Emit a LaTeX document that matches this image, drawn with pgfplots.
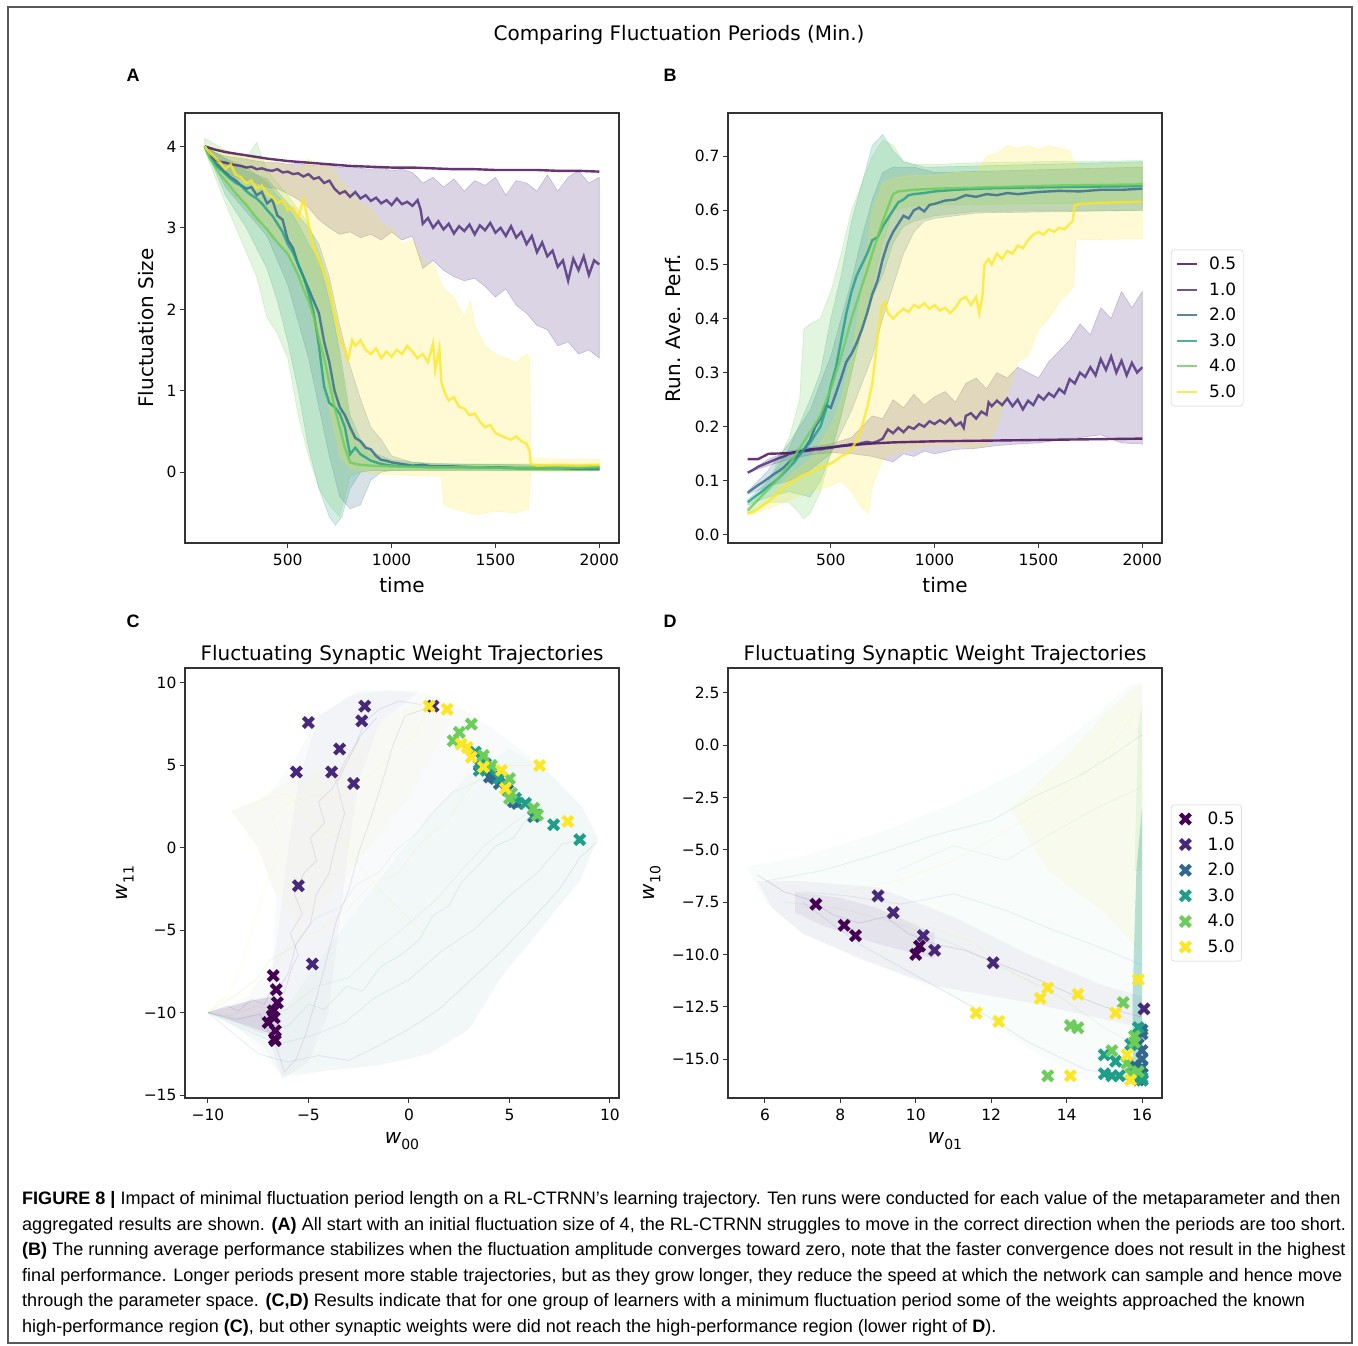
\documentclass[border=0pt]{standalone}
\usepackage{pgfplots}
\pgfplotsset{compat=1.18}
\usepackage{fontspec}
\setmainfont{DejaVu Sans}
\newfontfamily\capfont{Liberation Sans}
\newcommand{\fs}[1]{\fontsize{#1}{#1}\selectfont}
\definecolor{v0}{HTML}{440154}
\definecolor{v1}{HTML}{482878}
\definecolor{v2}{HTML}{31688E}
\definecolor{v3}{HTML}{1F9E89}
\definecolor{v4}{HTML}{6CCD5A}
\definecolor{v5}{HTML}{FDE725}
\pgfdeclareplotmark{bigX}{%
  \pgfpathmoveto{\pgfpoint{0.6\pgfplotmarksize}{0pt}}%
  \pgfpathlineto{\pgfpoint{1.3\pgfplotmarksize}{0.7\pgfplotmarksize}}%
  \pgfpathlineto{\pgfpoint{0.7\pgfplotmarksize}{1.3\pgfplotmarksize}}%
  \pgfpathlineto{\pgfpoint{0pt}{0.6\pgfplotmarksize}}%
  \pgfpathlineto{\pgfpoint{-0.7\pgfplotmarksize}{1.3\pgfplotmarksize}}%
  \pgfpathlineto{\pgfpoint{-1.3\pgfplotmarksize}{0.7\pgfplotmarksize}}%
  \pgfpathlineto{\pgfpoint{-0.6\pgfplotmarksize}{0pt}}%
  \pgfpathlineto{\pgfpoint{-1.3\pgfplotmarksize}{-0.7\pgfplotmarksize}}%
  \pgfpathlineto{\pgfpoint{-0.7\pgfplotmarksize}{-1.3\pgfplotmarksize}}%
  \pgfpathlineto{\pgfpoint{0pt}{-0.6\pgfplotmarksize}}%
  \pgfpathlineto{\pgfpoint{0.7\pgfplotmarksize}{-1.3\pgfplotmarksize}}%
  \pgfpathlineto{\pgfpoint{1.3\pgfplotmarksize}{-0.7\pgfplotmarksize}}%
  \pgfpathclose\pgfusepathqfill}
\pgfplotsset{mpl/.style={scale only axis, width=434pt, height=430pt,
  axis line style={line width=1.1pt, black!80}, every tick/.style={line width=1pt, black!80},
  tick align=outside, major tick length=5pt, xtick pos=bottom, ytick pos=left,
  ticklabel style={font=\fs{15.5}}, xticklabel style={yshift=-2.5pt}, label style={font=\fs{20}}, axis on top, clip=true},
  band/.style={fill=#1, fill opacity=0.2, draw=#1, draw opacity=0.25, line width=0.6pt, forget plot},
  mline/.style={#1, opacity=0.8, line width=2.4pt},
  cloud/.style={fill=#1, fill opacity=0.03, draw=none, forget plot},
  traj/.style={#1, opacity=0.12, line width=0.8pt, forget plot},
  xm/.style={only marks, mark=bigX, mark size=5pt, color=#1},
  leg/.style={legend style={at={(1.0207,0.5)}, anchor=west, draw=black!20, rounded corners=3pt,
     font=\fs{17}, inner xsep=5pt, inner ysep=5pt, row sep=7.5pt,
     /tikz/every odd column/.append style={column sep=9pt}}, legend cell align=left}
}
\begin{document}
\begin{tikzpicture}[x=1pt,y=1pt]
\path[use as bounding box] (0pt,0pt) rectangle (1358pt,1345pt);
\draw[line width=1.5pt, black!65] (8pt,2pt) rectangle (1352pt,1338pt);
\node[font=\fs{20}] at (679pt,1310pt) {Comparing Fluctuation Periods (Min.)};
\node[font=\capfont\bfseries\fs{18}] at (133pt,1270pt) {A};
\node[font=\capfont\bfseries\fs{18}] at (670pt,1270pt) {B};
\node[font=\capfont\bfseries\fs{18}] at (133pt,724pt) {C};
\node[font=\capfont\bfseries\fs{18}] at (670pt,724pt) {D};

% ---------------- A ----------------
\begin{axis}[mpl, at={(185pt,802pt)}, anchor=south west,
  xmin=5, xmax=2095, ymin=-0.87, ymax=4.41,
  xtick={500,1000,1500,2000}, xticklabels={500,1000,1500,2000},
  ytick={0,1,2,3,4}, yticklabels={0,1,2,3,4},
  xlabel={time}, ylabel={Fluctuation Size},
  xlabel style={at={(axis description cs:0.5,-0.098)}, anchor=center},
  ylabel style={at={(axis description cs:-0.09,0.5)}, anchor=center}]
\addplot[band=v1] coordinates {(100,4.00) (150,3.92) (200,3.88) (250,3.86) (300,3.84) (350,3.82) (400,3.80) (450,3.80) (500,3.78) (550,3.79) (600,3.77) (650,3.76) (700,3.78) (750,3.74) (800,3.76) (850,3.73) (900,3.72) (950,3.74) (1000,3.70) (1050,3.72) (1100,3.68) (1150,3.55) (1200,3.62) (1250,3.50) (1300,3.60) (1350,3.45) (1400,3.58) (1450,3.52) (1500,3.62) (1550,3.40) (1600,3.58) (1650,3.55) (1700,3.45) (1750,3.65) (1800,3.45) (1850,3.62) (1900,3.70) (1950,3.55) (2000,3.62)
 (2000,1.40) (1950,1.50) (1900,1.45) (1850,1.60) (1800,1.55) (1750,1.75) (1700,1.80) (1650,1.95) (1600,2.05) (1550,2.25) (1500,2.15) (1450,2.28) (1400,2.38) (1350,2.35) (1300,2.40) (1250,2.48) (1200,2.60) (1150,2.50) (1100,2.90) (1050,2.85) (1000,2.95) (950,2.85) (900,2.92) (850,2.88) (800,2.95) (750,2.92) (700,3.00) (650,3.10) (600,3.25) (550,3.35) (500,3.42) (450,3.48) (400,3.50) (350,3.55) (300,3.58) (250,3.62) (200,3.68) (150,3.75) (100,4.00)} -- cycle;
\addplot[band=v2] coordinates {(100,4.0) (200,3.85) (300,3.70) (400,3.60) (500,3.30) (600,3.00) (650,2.80) (700,2.40) (750,1.80) (800,1.30) (850,0.90) (900,0.55) (950,0.40) (1000,0.20) (1100,0.12) (1300,0.10) (2000,0.08)
 (2000,0.02) (1300,0.03) (1100,0.03) (1000,0.02) (950,0.00) (900,-0.10) (850,-0.40) (800,-0.45) (750,-0.30) (700,0.20) (650,0.80) (600,1.40) (500,2.30) (400,2.90) (300,3.20) (200,3.50) (100,4.0)} -- cycle;
\addplot[band=v3] coordinates {(100,4.0) (200,3.85) (300,3.75) (400,3.55) (500,3.25) (550,3.05) (600,2.80) (650,2.60) (700,2.10) (750,1.50) (800,0.70) (850,0.40) (900,0.25) (1000,0.15) (1200,0.10) (2000,0.08)
 (2000,0.02) (1000,0.02) (900,0.02) (850,0.00) (800,-0.20) (760,-0.55) (730,-0.65) (700,-0.55) (650,-0.20) (600,0.30) (550,1.00) (500,1.60) (450,2.10) (400,2.50) (300,3.00) (200,3.40) (100,4.0)} -- cycle;
\addplot[band=v4] coordinates {(100,4.1) (200,3.95) (300,3.85) (350,4.05) (400,3.70) (500,3.40) (600,3.05) (650,2.70) (700,2.30) (750,1.40) (800,0.60) (850,0.35) (900,0.20) (1000,0.12) (1200,0.10) (2000,0.10)
 (2000,0.02) (1000,0.02) (900,0.02) (850,0.00) (800,-0.05) (750,-0.55) (700,-0.40) (650,-0.20) (600,0.20) (550,0.70) (500,1.40) (450,1.70) (400,1.90) (350,2.40) (300,2.70) (200,3.30) (100,3.95)} -- cycle;
\addplot[band=v5] coordinates {(100,4.00) (200,3.95) (300,3.88) (400,3.82) (500,3.78) (550,3.72) (600,3.85) (650,3.75) (700,3.78) (750,3.60) (800,3.45) (850,3.30) (900,3.25) (950,3.05) (1000,3.00) (1050,2.80) (1100,2.85) (1150,2.60) (1200,2.55) (1250,2.25) (1300,2.15) (1350,1.90) (1380,2.10) (1400,1.80) (1450,1.55) (1500,1.45) (1550,1.40) (1600,1.35) (1650,1.45) (1665,1.40) (1670,0.18) (1800,0.16) (2000,0.16)
 (2000,0.01) (1800,0.01) (1670,0.00) (1660,-0.45) (1600,-0.50) (1500,-0.48) (1400,-0.52) (1300,-0.45) (1250,-0.40) (1240,-0.05) (1200,-0.05) (1100,-0.04) (1000,-0.03) (900,-0.02) (800,0.05) (750,0.20) (700,0.80) (650,1.50) (600,2.10) (550,2.50) (500,2.70) (400,2.95) (300,3.25) (200,3.55) (100,4.00)} -- cycle;
\addplot[mline=v0] coordinates {(100,4.00) (150,3.96) (200,3.93) (300,3.89) (400,3.85) (500,3.82) (600,3.80) (700,3.78) (800,3.76) (900,3.75) (1000,3.74) (1100,3.74) (1200,3.73) (1300,3.72) (1400,3.72) (1500,3.71) (1600,3.71) (1700,3.71) (1800,3.70) (1900,3.70) (2000,3.69)};
\addplot[mline=v1] coordinates {(100,4.00) (125,3.90) (150,3.84) (175,3.81) (200,3.80) (225,3.78) (250,3.77) (275,3.76) (300,3.74) (325,3.75) (350,3.72) (375,3.73) (400,3.71) (425,3.70) (450,3.72) (475,3.68) (500,3.69) (525,3.66) (550,3.67) (575,3.63) (600,3.66) (625,3.60) (650,3.62) (675,3.55) (700,3.58) (725,3.48) (750,3.42) (775,3.45) (800,3.38) (825,3.44) (850,3.36) (875,3.40) (900,3.33) (925,3.37) (950,3.30) (975,3.34) (1000,3.28) (1025,3.36) (1050,3.29) (1075,3.32) (1100,3.27) (1125,3.34) (1140,3.22) (1150,3.05) (1175,3.12) (1200,3.00) (1225,3.08) (1250,2.98) (1275,3.05) (1300,2.93) (1325,3.02) (1350,2.96) (1375,3.04) (1400,2.92) (1425,3.03) (1450,2.97) (1475,3.06) (1500,2.94) (1525,3.00) (1550,2.90) (1575,3.02) (1600,2.88) (1625,2.95) (1650,2.80) (1675,2.90) (1700,2.70) (1725,2.82) (1750,2.65) (1775,2.72) (1800,2.52) (1825,2.60) (1850,2.35) (1875,2.62) (1900,2.48) (1925,2.65) (1950,2.42) (1975,2.60) (2000,2.55)};
\addplot[mline=v2] coordinates {(100,4.00) (125,3.88) (150,3.80) (175,3.74) (200,3.68) (225,3.62) (250,3.58) (275,3.52) (300,3.48) (325,3.50) (350,3.40) (375,3.44) (400,3.30) (425,3.35) (450,3.15) (475,3.10) (500,2.85) (525,2.75) (550,2.55) (575,2.40) (600,2.25) (625,2.10) (650,1.95) (675,1.60) (700,1.35) (725,1.00) (750,0.80) (775,0.70) (800,0.55) (825,0.42) (850,0.38) (875,0.30) (900,0.28) (925,0.20) (950,0.15) (975,0.14) (1000,0.12) (1050,0.10) (1100,0.08) (1150,0.09) (1200,0.07) (1300,0.07) (1400,0.06) (1500,0.06) (1600,0.05) (1700,0.05) (1800,0.05) (1900,0.04) (2000,0.04)};
\addplot[mline=v3] coordinates {(100,4.00) (125,3.86) (150,3.78) (175,3.72) (200,3.66) (225,3.60) (250,3.55) (275,3.52) (300,3.45) (325,3.40) (350,3.36) (375,3.30) (400,3.22) (425,3.15) (450,3.05) (475,2.95) (500,2.80) (525,2.70) (550,2.55) (575,2.40) (600,2.20) (625,1.95) (650,1.55) (675,1.05) (700,0.85) (725,0.80) (750,0.72) (775,0.55) (790,0.35) (800,0.22) (825,0.30) (850,0.22) (875,0.18) (900,0.14) (950,0.10) (1000,0.08) (1100,0.07) (1200,0.06) (1400,0.06) (1600,0.05) (1800,0.05) (2000,0.05)};
\addplot[mline=v4] coordinates {(100,4.00) (125,3.85) (150,3.75) (175,3.65) (200,3.58) (225,3.50) (250,3.42) (275,3.35) (300,3.28) (325,3.20) (350,3.12) (375,3.05) (400,2.98) (425,2.90) (450,2.82) (475,2.75) (500,2.68) (525,2.55) (550,2.42) (575,2.25) (600,2.10) (625,1.90) (650,1.65) (675,1.40) (700,1.10) (725,0.80) (750,0.55) (775,0.30) (800,0.12) (825,0.10) (850,0.09) (900,0.08) (1000,0.07) (1200,0.06) (1400,0.06) (1600,0.05) (1800,0.05) (2000,0.06)};
\addplot[mline=v5] coordinates {(100,4.00) (125,3.92) (150,3.86) (175,3.80) (200,3.72) (225,3.78) (250,3.65) (275,3.62) (300,3.55) (325,3.58) (350,3.48) (375,3.52) (400,3.42) (425,3.38) (450,3.30) (475,3.34) (500,3.22) (525,3.25) (550,3.12) (575,3.35) (600,3.05) (625,2.75) (650,2.60) (675,2.45) (700,2.25) (725,1.95) (750,1.65) (775,1.50) (790,1.38) (810,1.62) (825,1.55) (850,1.62) (875,1.50) (900,1.45) (925,1.52) (950,1.40) (975,1.48) (1000,1.42) (1025,1.50) (1050,1.45) (1075,1.55) (1100,1.48) (1125,1.40) (1150,1.45) (1175,1.35) (1200,1.58) (1210,1.25) (1230,1.52) (1240,1.10) (1260,0.95) (1275,0.88) (1300,0.92) (1325,0.80) (1350,0.78) (1375,0.70) (1400,0.72) (1425,0.62) (1450,0.55) (1475,0.58) (1500,0.48) (1525,0.45) (1550,0.42) (1575,0.40) (1600,0.44) (1625,0.38) (1650,0.35) (1665,0.25) (1670,0.10) (1700,0.08) (1800,0.09) (1900,0.08) (2000,0.09)};
\end{axis}

% ---------------- B ----------------
\begin{axis}[mpl, leg, at={(728pt,802pt)}, anchor=south west,
  xmin=5, xmax=2095, ymin=-0.015, ymax=0.78,
  xtick={500,1000,1500,2000}, xticklabels={500,1000,1500,2000},
  ytick={0,0.1,0.2,0.3,0.4,0.5,0.6,0.7}, yticklabels={0.0,0.1,0.2,0.3,0.4,0.5,0.6,0.7},
  xlabel={time}, ylabel={Run. Ave. Perf.},
  xlabel style={at={(axis description cs:0.5,-0.098)}, anchor=center},
  ylabel style={at={(axis description cs:-0.127,0.5)}, anchor=center},
  legend image code/.code={\draw[#1, line width=2pt] (0pt,0pt) -- (20pt,0pt);}]
\addplot[band=v1] coordinates {(100,0.115) (200,0.140) (300,0.155) (400,0.162) (500,0.168) (600,0.180) (650,0.200) (700,0.220) (750,0.215) (800,0.250) (850,0.235) (900,0.260) (950,0.240) (1000,0.255) (1050,0.265) (1100,0.245) (1150,0.280) (1200,0.290) (1250,0.270) (1300,0.300) (1350,0.290) (1400,0.310) (1450,0.300) (1500,0.290) (1550,0.320) (1600,0.340) (1650,0.360) (1700,0.390) (1750,0.370) (1800,0.420) (1850,0.400) (1900,0.450) (1950,0.420) (2000,0.450)
 (2000,0.168) (1900,0.170) (1800,0.185) (1700,0.180) (1600,0.175) (1500,0.170) (1400,0.168) (1300,0.165) (1200,0.160) (1100,0.158) (1000,0.150) (950,0.155) (900,0.145) (850,0.150) (800,0.135) (750,0.140) (700,0.145) (600,0.150) (500,0.152) (400,0.148) (300,0.140) (200,0.128) (100,0.115)} -- cycle;
\addplot[band=v2] coordinates {(100,0.080) (200,0.120) (300,0.170) (400,0.230) (500,0.330) (550,0.400) (600,0.470) (650,0.550) (700,0.620) (750,0.670) (800,0.680) (900,0.680) (1000,0.670) (1500,0.675) (2000,0.680)
 (2000,0.600) (1200,0.595) (1000,0.585) (950,0.580) (900,0.560) (850,0.520) (800,0.460) (750,0.400) (700,0.330) (650,0.280) (600,0.230) (550,0.190) (500,0.150) (400,0.120) (300,0.100) (200,0.090) (100,0.075)} -- cycle;
\addplot[band=v3] coordinates {(100,0.065) (200,0.100) (300,0.160) (400,0.250) (450,0.300) (500,0.400) (550,0.480) (600,0.580) (650,0.650) (700,0.720) (750,0.740) (800,0.710) (850,0.690) (900,0.685) (950,0.680) (1000,0.680) (1500,0.685) (2000,0.690)
 (2000,0.600) (1200,0.598) (1000,0.590) (900,0.580) (850,0.570) (800,0.540) (750,0.480) (700,0.440) (650,0.380) (600,0.300) (550,0.220) (500,0.150) (450,0.100) (400,0.070) (300,0.080) (200,0.070) (100,0.055)} -- cycle;
\addplot[band=v4] coordinates {(100,0.050) (200,0.100) (300,0.180) (350,0.250) (370,0.380) (400,0.390) (450,0.400) (500,0.450) (550,0.520) (600,0.600) (650,0.650) (700,0.700) (750,0.730) (800,0.720) (850,0.690) (900,0.685) (1000,0.685) (1200,0.688) (1500,0.690) (2000,0.692)
 (2000,0.614) (1500,0.612) (1000,0.610) (900,0.608) (850,0.605) (800,0.600) (750,0.540) (700,0.460) (650,0.380) (600,0.300) (550,0.220) (500,0.150) (450,0.080) (400,0.040) (370,0.030) (350,0.040) (300,0.060) (200,0.060) (100,0.040)} -- cycle;
\addplot[band=v5] coordinates {(100,0.040) (200,0.070) (300,0.110) (400,0.140) (450,0.170) (500,0.200) (550,0.250) (600,0.330) (650,0.450) (700,0.600) (750,0.650) (800,0.660) (900,0.665) (1000,0.665) (1100,0.670) (1200,0.670) (1250,0.700) (1300,0.705) (1350,0.720) (1400,0.715) (1450,0.720) (1500,0.712) (1550,0.720) (1600,0.715) (1650,0.710) (1670,0.690) (1700,0.680) (2000,0.685)
 (2000,0.548) (1680,0.545) (1670,0.460) (1650,0.450) (1600,0.430) (1550,0.400) (1500,0.380) (1450,0.330) (1400,0.320) (1350,0.260) (1300,0.200) (1250,0.165) (1200,0.160) (1100,0.165) (1000,0.165) (900,0.160) (800,0.150) (750,0.140) (700,0.090) (680,0.040) (650,0.050) (600,0.080) (550,0.100) (500,0.090) (400,0.080) (300,0.065) (200,0.048) (100,0.035)} -- cycle;
\addplot[mline=v0] coordinates {(100,0.140) (150,0.140) (175,0.145) (200,0.150) (300,0.151) (400,0.158) (500,0.162) (600,0.166) (700,0.169) (800,0.171) (900,0.172) (1000,0.173) (1200,0.174) (1400,0.175) (1600,0.176) (1800,0.177) (2000,0.178)};
\addlegendentry{0.5}
\addplot[mline=v1] coordinates {(100,0.115) (125,0.120) (150,0.126) (175,0.130) (200,0.134) (225,0.138) (250,0.142) (275,0.145) (300,0.150) (325,0.152) (350,0.154) (375,0.155) (400,0.156) (425,0.158) (450,0.158) (475,0.160) (500,0.161) (525,0.163) (550,0.165) (575,0.166) (600,0.168) (625,0.167) (650,0.170) (675,0.172) (700,0.170) (725,0.173) (750,0.178) (775,0.195) (800,0.188) (825,0.198) (850,0.190) (875,0.200) (900,0.196) (925,0.205) (950,0.200) (975,0.210) (1000,0.205) (1025,0.212) (1050,0.206) (1075,0.215) (1100,0.202) (1125,0.208) (1140,0.198) (1150,0.220) (1175,0.225) (1200,0.215) (1225,0.228) (1250,0.222) (1260,0.245) (1275,0.238) (1300,0.248) (1325,0.240) (1350,0.252) (1375,0.238) (1400,0.250) (1425,0.232) (1450,0.248) (1475,0.240) (1500,0.258) (1525,0.250) (1550,0.262) (1575,0.255) (1600,0.270) (1625,0.262) (1650,0.288) (1675,0.280) (1700,0.300) (1725,0.292) (1750,0.310) (1775,0.295) (1800,0.325) (1825,0.305) (1850,0.330) (1875,0.300) (1900,0.322) (1925,0.295) (1950,0.318) (1975,0.300) (2000,0.310)};
\addlegendentry{1.0}
\addplot[mline=v2] coordinates {(100,0.078) (125,0.085) (150,0.092) (175,0.098) (200,0.105) (225,0.112) (250,0.118) (275,0.125) (300,0.135) (325,0.142) (350,0.150) (375,0.160) (400,0.175) (425,0.200) (450,0.215) (475,0.240) (500,0.235) (525,0.262) (550,0.290) (575,0.320) (600,0.335) (625,0.355) (650,0.380) (675,0.410) (700,0.445) (725,0.470) (750,0.510) (775,0.540) (800,0.560) (825,0.575) (850,0.590) (875,0.585) (900,0.600) (925,0.605) (950,0.598) (975,0.610) (1000,0.612) (1050,0.618) (1100,0.620) (1150,0.628) (1200,0.625) (1250,0.630) (1300,0.628) (1350,0.632) (1400,0.630) (1500,0.634) (1600,0.636) (1700,0.635) (1800,0.638) (1900,0.638) (2000,0.640)};
\addlegendentry{2.0}
\addplot[mline=v3] coordinates {(100,0.060) (125,0.068) (150,0.075) (175,0.082) (200,0.090) (225,0.097) (250,0.105) (275,0.115) (300,0.125) (325,0.135) (350,0.148) (375,0.160) (400,0.170) (425,0.185) (450,0.200) (475,0.230) (500,0.275) (525,0.310) (550,0.360) (575,0.410) (600,0.450) (625,0.480) (650,0.500) (675,0.520) (700,0.545) (725,0.550) (750,0.570) (775,0.585) (800,0.600) (825,0.615) (850,0.620) (875,0.628) (900,0.630) (950,0.632) (1000,0.635) (1100,0.638) (1200,0.640) (1400,0.642) (1600,0.643) (1800,0.644) (2000,0.645)};
\addlegendentry{3.0}
\addplot[mline=v4] coordinates {(100,0.045) (125,0.055) (150,0.065) (175,0.075) (200,0.085) (225,0.095) (250,0.105) (275,0.118) (300,0.130) (325,0.145) (350,0.160) (375,0.175) (400,0.190) (425,0.205) (450,0.220) (475,0.245) (500,0.270) (525,0.300) (550,0.330) (575,0.365) (600,0.400) (625,0.430) (650,0.460) (675,0.490) (700,0.520) (725,0.550) (750,0.580) (775,0.605) (800,0.630) (825,0.635) (850,0.636) (900,0.638) (1000,0.640) (1200,0.642) (1400,0.644) (1600,0.646) (1800,0.647) (2000,0.648)};
\addlegendentry{4.0}
\addplot[mline=v5] coordinates {(100,0.040) (125,0.042) (150,0.048) (175,0.055) (200,0.062) (225,0.070) (250,0.078) (275,0.088) (300,0.095) (325,0.100) (350,0.108) (375,0.112) (400,0.115) (425,0.120) (450,0.125) (475,0.128) (500,0.132) (525,0.138) (550,0.145) (575,0.150) (600,0.158) (625,0.175) (650,0.200) (675,0.235) (700,0.280) (715,0.330) (730,0.380) (745,0.420) (760,0.430) (775,0.410) (800,0.400) (825,0.410) (850,0.418) (875,0.412) (900,0.425) (925,0.420) (950,0.428) (975,0.418) (1000,0.425) (1025,0.415) (1050,0.420) (1075,0.410) (1100,0.420) (1125,0.435) (1150,0.440) (1175,0.425) (1200,0.440) (1215,0.410) (1230,0.440) (1240,0.500) (1260,0.510) (1275,0.500) (1300,0.520) (1325,0.510) (1350,0.525) (1375,0.520) (1400,0.535) (1425,0.530) (1450,0.545) (1475,0.555) (1500,0.560) (1525,0.555) (1550,0.565) (1575,0.560) (1600,0.568) (1625,0.565) (1650,0.575) (1665,0.580) (1675,0.610) (1700,0.612) (1800,0.614) (1900,0.615) (2000,0.616)};
\addlegendentry{5.0}
\end{axis}

% ---------------- C ----------------
\begin{axis}[mpl, at={(185pt,247pt)}, anchor=south west,
  xmin=-11.14, xmax=10.45, ymin=-15.18, ymax=10.91,
  xtick={-10,-5,0,5,10}, xticklabels={−10,−5,0,5,10},
  ytick={-15,-10,-5,0,5,10}, yticklabels={−15,−10,−5,0,5,10},
  title={Fluctuating Synaptic Weight Trajectories},
  title style={font=\fs{20}, at={(axis description cs:0.5,1)}, anchor=base, yshift=1pt},
  xlabel={{\itshape w}\raisebox{-0.3em}{\fs{14}00}}, ylabel={{\itshape w}\raisebox{-0.3em}{\fs{14}11}},
  xlabel style={at={(axis description cs:0.5,-0.1)}, anchor=center},
  ylabel style={at={(axis description cs:-0.138,0.5)}, anchor=center}]
\addplot[cloud=v2] coordinates {(-10,-10) (-8,-9) (-6.8,-7) (-6.6,-3) (-7.5,0) (-8.8,2.2) (-7,3.2) (-5.6,5.5) (-4.5,8) (-3,9.2) (-1,9.6) (1,9.3) (3,8.2) (5,6.5) (7,4.5) (8.6,2.5) (9.4,0.6) (8.5,-2) (6.5,-5) (4.5,-8) (3,-11) (1,-12.5) (-1.5,-13.2) (-4,-13.5) (-6.3,-14) (-7.2,-12) (-8.5,-11)} -- cycle;
\addplot[cloud=v1] coordinates {(-10,-10) (-7,-9) (-6.5,-5) (-6,0) (-5.5,4) (-4.5,8) (-2.5,9.5) (0.5,9.5) (-1.5,7.5) (-2.5,4) (-3,0) (-3.5,-5) (-4,-10) (-5,-13) (-6.3,-14) (-7,-11.5)} -- cycle;
\addplot[cloud=v5] coordinates {(-8.8,2.2) (-6,4) (-3.5,5) (-1,8) (1,9) (2,7.5) (0,3) (-2,0) (-4,-3) (-5.5,-5) (-7,-2)} -- cycle;
\addplot[cloud=v3] coordinates {(-9,-10.5) (-6,-9.5) (-4,-6) (-1.5,-2) (1,2) (3,4.5) (5,6) (7,4.5) (8.6,2.5) (9.4,0.6) (8.5,-2) (6.5,-5) (4.5,-8) (3,-11) (1,-12.5) (-1.5,-13.2) (-4,-13.5) (-6.3,-13.8) (-8,-11.5)} -- cycle;
\addplot[cloud=v0, fill opacity=0.12] coordinates {(-10,-10) (-8,-9.3) (-6.6,-9) (-6.4,-11.5) (-8,-10.8)} -- cycle;
\addplot[traj=v1] coordinates {(-10,-10) (-9,-9.6) (-8.5,-9.9) (-7.8,-9.2) (-7.2,-9.5) (-6.8,-8.5) (-6.2,-8.8) (-5.8,-7.2) (-5.5,-6.5) (-5.9,-5.2) (-5.3,-4) (-5.7,-2.8) (-5.2,-1.5) (-4.6,-0.8) (-4.9,0.6) (-4.2,1.5) (-4.5,2.8) (-3.8,3.6) (-3.2,5.2) (-2.6,6.4) (-2.2,7.6) (-1.5,8.4) (-0.5,8.9) (0.6,8.7)};
\addplot[traj=v3] coordinates {(-10,-10) (-8.5,-10.6) (-7.3,-11.2) (-6,-10.8) (-5,-9.5) (-4.2,-9.8) (-3.1,-8.4) (-2.3,-8.7) (-1.4,-7.2) (-0.4,-6.5) (0.5,-5.6) (1.2,-4.1) (2.0,-3.5) (2.6,-2.1) (3.5,-1.0) (4.3,0.1) (5.2,0.6) (5.9,1.8) (6.8,2.1)};
\addplot[traj=v4] coordinates {(-10,-10) (-8.7,-9.0) (-7.6,-8.0) (-6.9,-6.8) (-5.6,-5.9) (-4.7,-4.3) (-3.4,-3.6) (-2.6,-2.2) (-1.5,-1.5) (-0.7,-0.2) (0.4,0.9) (1.3,2.3) (2.2,3.4) (3.2,3.9) (4.1,4.6) (5.0,3.8)};
\addplot[traj=v5] coordinates {(-10,-10) (-8.8,-8.6) (-8.2,-6.5) (-7.6,-4.1) (-7.0,-2.0) (-6.4,0.2) (-6.8,1.9) (-5.9,2.8) (-4.6,3.2) (-3.5,3.0) (-2.0,4.4) (-0.8,5.6) (0.3,6.9) (1.0,8.5)};
\addplot[traj=v2] coordinates {(-10,-10) (-9,-11) (-7.5,-12.5) (-6,-13) (-4.5,-12.6) (-3,-12.9) (-1.5,-12) (0,-11) (1.5,-9.8) (3,-8.1) (4.5,-6.4) (6,-4.5) (7.5,-2.5) (8.5,-0.6) (9.4,0.4)};
\addplot[traj=v1] coordinates {(-10,-10) (-8.6,-10.4) (-7.4,-10.1) (-6.9,-11.3) (-6.5,-12.4) (-6.2,-13.6) (-5.6,-12.8) (-5.1,-11.2) (-4.6,-9.1) (-4.1,-6.8) (-3.6,-4.4) (-3.0,-2.6) (-2.5,-0.3) (-1.9,1.8) (-1.3,4.1) (-0.8,6.2) (-0.2,8.0) (1.2,8.6)};
\addplot[traj=v4] coordinates {(-10,-10) (-8.9,-10.2) (-7.6,-9.6) (-6.2,-9.9) (-4.6,-8.4) (-3.0,-7.9) (-1.6,-6.2) (-0.2,-4.8) (1.3,-3.2) (2.6,-1.4) (3.8,0.2) (5.1,1.4) (6.2,2.4)};
\addplot[traj=v5] coordinates {(-10,-10) (-9.2,-9.1) (-8.0,-8.8) (-6.8,-7.4) (-5.8,-5.6) (-4.4,-5.0) (-3.1,-3.8) (-1.8,-2.1) (-0.6,-1.6) (0.6,0.3) (1.9,1.6) (3.0,3.6) (4.2,5.0) (6.5,5.0)};
\addplot[traj=v3] coordinates {(-10,-10) (-8.2,-11.0) (-6.5,-11.9) (-4.8,-11.4) (-3.2,-10.6) (-1.7,-9.1) (0.0,-8.0) (1.6,-6.3) (3.3,-4.9) (4.9,-3.0) (6.4,-1.5) (7.6,0.2) (8.5,0.5)};
\addplot[traj=v1] coordinates {(-6.7,-9) (-6.0,-7.6) (-5.6,-5.8) (-4.9,-4.6) (-4.6,-2.8) (-4.0,-1.6) (-3.6,0.4) (-3.2,2.1) (-3.6,3.9) (-3.0,5.4) (-2.4,6.8) (-1.6,7.9)};
\addplot[traj=v5] coordinates {(-8.8,2.2) (-7.2,2.9) (-6.1,3.3) (-5.2,2.2) (-4.3,1.0) (-3.2,0.5) (-2.4,-1.2) (-1.4,-2.6) (-0.3,-3.9) (0.8,-5.3)};
\addplot[xm=v0] coordinates {(-6.75,-7.75) (-6.6,-8.6) (-6.55,-9.4) (-6.75,-9.9) (-6.7,-10.3) (-7.0,-10.6) (-6.8,-10.2) (-6.65,-11.1) (-6.7,-11.6) (-6.65,-11.7)};
\addplot[xm=v1] coordinates {(1.2,8.6) (-5.0,7.6) (-2.2,8.6) (-2.35,7.7) (-3.45,6.0) (-5.6,4.6) (-3.85,4.6) (-2.75,3.9) (-5.5,-2.3) (-4.8,-7.05)};
\addplot[xm=v2] coordinates {(3.5,5.0) (4.0,4.3) (4.3,4.2) (4.5,3.9) (5.2,2.8) (5.4,2.7) (6.2,1.9) (4.9,3.5) (3.8,5.1) (4.2,4.3)};
\addplot[xm=v3] coordinates {(3.3,5.8) (3.6,5.4) (3.5,4.7) (4.0,4.8) (5.3,3.0) (5.8,2.7) (7.2,1.4) (8.5,0.5) (6.3,2.0) (4.5,4.2)};
\addplot[xm=v4] coordinates {(2.2,6.5) (2.5,7.0) (3.1,7.5) (3.7,5.6) (4.1,5.0) (5.0,4.2) (5.1,3.3) (6.2,2.4) (6.4,2.0) (5.0,3.0)};
\addplot[xm=v5] coordinates {(1.0,8.6) (1.9,8.4) (2.6,6.3) (2.9,6.1) (3.1,5.5) (3.7,4.9) (4.6,4.7) (4.8,3.6) (6.5,5.0) (7.9,1.6)};
\end{axis}

% ---------------- D ----------------
\begin{axis}[mpl, leg, at={(728pt,247pt)}, anchor=south west,
  xmin=5.02, xmax=16.53, ymin=-16.86, ymax=3.69,
  xtick={6,8,10,12,14,16}, xticklabels={6,8,10,12,14,16},
  ytick={-15,-12.5,-10,-7.5,-5,-2.5,0,2.5}, yticklabels={−15.0,−12.5,−10.0,−7.5,−5.0,−2.5,0.0,2.5},
  title={Fluctuating Synaptic Weight Trajectories},
  title style={font=\fs{20}, at={(axis description cs:0.5,1)}, anchor=base, yshift=1pt},
  xlabel={{\itshape w}\raisebox{-0.3em}{\fs{14}01}}, ylabel={{\itshape w}\raisebox{-0.3em}{\fs{14}10}},
  xlabel style={at={(axis description cs:0.5,-0.1)}, anchor=center},
  ylabel style={at={(axis description cs:-0.175,0.5)}, anchor=center},
  legend image code/.code={\path (0pt,0pt) (20pt,0pt); \draw[#1, only marks, draw opacity=0] plot coordinates {(9pt,0pt)};}]
\addplot[cloud=v3, fill opacity=0.03] coordinates {(5.5,-5.8) (7,-5.3) (9,-4.2) (11,-2.8) (13,-1) (14.5,1) (15.6,2.8) (16,3) (16,-16) (14.5,-16) (13,-14.5) (11,-12) (9,-10.5) (7,-9) (6,-7.5)} -- cycle;
\addplot[cloud=v5, fill opacity=0.06] coordinates {(12.5,-3) (14,-0.5) (15,1.5) (15.8,2.8) (16,3) (16,-10) (15,-8) (13.5,-6)} -- cycle;
\addplot[cloud=v1, fill opacity=0.05] coordinates {(5.8,-6.5) (7,-6.5) (9,-6.8) (11,-8.2) (13,-10) (15,-11.5) (16,-12) (16,-13.5) (13,-12.3) (10.5,-11.5) (8.5,-10.2) (7,-9) (6.2,-7.8)} -- cycle;
\addplot[cloud=v0, fill opacity=0.06] coordinates {(6.8,-7) (8,-7.3) (9,-7.8) (10.5,-9) (10.5,-10.2) (9,-9.5) (7.5,-8.6) (6.8,-8)} -- cycle;
\addplot[cloud=v3, fill opacity=0.3] coordinates {(15.75,-16) (16,-16) (16,-3) (15.85,-6) (15.75,-12)} -- cycle;
\addplot[cloud=v4, fill opacity=0.12] coordinates {(15.8,-6) (16,-6) (16,2) (15.9,1)} -- cycle;
\addplot[traj=v0] coordinates {(5.8,-6.2) (6.5,-7.0) (7.2,-7.4) (7.8,-8.1) (8.5,-8.5) (9.2,-8.2) (9.8,-9.0) (10.5,-9.5) (11.3,-9.8) (12.0,-10.3) (13.0,-11.0) (14.0,-11.8) (15.0,-12.5) (16.0,-13.0)};
\addplot[traj=v3] coordinates {(6.0,-6.5) (7.5,-6.0) (9.0,-5.2) (10.5,-4.3) (12.0,-3.6) (13.2,-2.4) (14.3,-1.5) (15.2,-0.5) (16.0,0.5)};
\addplot[traj=v4] coordinates {(6.5,-7.5) (8.0,-7.8) (9.5,-8.5) (11.0,-9.5) (12.5,-10.8) (13.8,-12.0) (15.0,-13.5) (16.0,-14.5)};
\addplot[traj=v5] coordinates {(8.0,-7.0) (9.5,-6.5) (11.0,-5.5) (12.5,-4.0) (13.8,-2.5) (15.0,-0.5) (15.8,1.5)};
\addplot[traj=v2] coordinates {(7,-7.5) (8.5,-9.5) (10,-11) (11.5,-12.5) (13,-14.2) (14.5,-15.5) (16,-16)};
\addplot[traj=v3] coordinates {(7.0,-7.0) (8.2,-7.2) (9.6,-7.6) (11.0,-7.1) (12.4,-7.9) (13.6,-8.8) (14.8,-9.6) (16.0,-10.5)};
\addplot[traj=v5] coordinates {(9.0,-8.0) (10.2,-8.6) (11.5,-9.4) (12.6,-10.9) (13.5,-11.6)};
\addplot[traj=v4] coordinates {(9.5,-6.0) (11.0,-4.8) (12.4,-5.5) (13.6,-4.2) (14.8,-3.0) (16.0,-2.0)};
\addplot[xm=v0] coordinates {(7.35,-7.6) (8.1,-8.6) (8.4,-9.1) (10.0,-10.0) (10.1,-9.6)};
\addlegendentry{0.5}
\addplot[xm=v1] coordinates {(9.0,-7.2) (9.4,-8.0) (10.2,-9.1) (10.5,-9.8) (12.05,-10.4) (16.05,-12.6)};
\addlegendentry{1.0}
\addplot[xm=v2] coordinates {(16.0,-13.8) (16.0,-14.6) (16.0,-15.0) (16.0,-15.4) (16.0,-15.7) (15.9,-16.0) (16.0,-13.6) (15.9,-14.3) (16.0,-16.0) (15.8,-15.3)};
\addlegendentry{2.0}
\addplot[xm=v3] coordinates {(15.0,-14.8) (15.0,-15.7) (15.2,-15.8) (15.4,-15.8) (15.3,-15.1) (15.7,-14.3) (15.9,-13.5) (16.0,-15.9) (16.0,-16.0) (15.8,-15.8)};
\addlegendentry{3.0}
\addplot[xm=v4] coordinates {(13.5,-15.8) (14.1,-13.4) (14.3,-13.5) (15.2,-14.6) (15.5,-12.3) (15.8,-13.9) (15.7,-15.7) (15.9,-15.6) (15.8,-14.2) (15.6,-15.2)};
\addlegendentry{4.0}
\addplot[xm=v5] coordinates {(11.6,-12.8) (12.2,-13.2) (13.3,-12.1) (13.5,-11.6) (14.3,-11.9) (14.1,-15.8) (15.3,-12.8) (15.6,-14.8) (15.7,-16.0) (15.9,-11.2)};
\addlegendentry{5.0}
\end{axis}

% ---------------- caption ----------------
\begin{scope}[every node/.style={anchor=base west, inner sep=0pt, font=\capfont\fs{18.05}}]
\node at (22pt,140pt) {\textbf{FIGURE 8 |} Impact of minimal fluctuation period length on a RL-CTRNN’s learning trajectory. Ten runs were conducted for each value of the metaparameter and then};
\node at (22pt,114.6pt) {aggregated results are shown. \textbf{(A)} All start with an initial fluctuation size of 4, the RL-CTRNN struggles to move in the correct direction when the periods are too short.};
\node at (22pt,89.2pt) {\textbf{(B)} The running average performance stabilizes when the fluctuation amplitude converges toward zero, note that the faster convergence does not result in the highest};
\node at (22pt,63.8pt) {final performance. Longer periods present more stable trajectories, but as they grow longer, they reduce the speed at which the network can sample and hence move};
\node at (22pt,38.4pt) {through the parameter space. \textbf{(C,D)} Results indicate that for one group of learners with a minimum fluctuation period some of the weights approached the known};
\node at (22pt,13pt) {high-performance region \textbf{(C)}, but other synaptic weights were did not reach the high-performance region (lower right of \textbf{D}).};
\end{scope}
\end{tikzpicture}
\end{document}
